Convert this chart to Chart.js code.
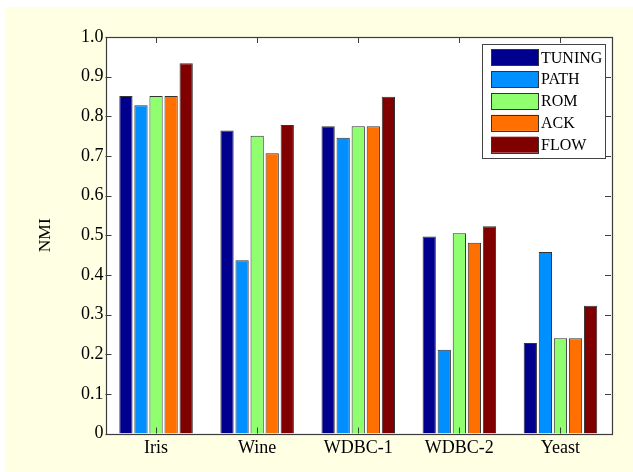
<!DOCTYPE html>
<html>
<head>
<meta charset="utf-8">
<script src="https://cdn.jsdelivr.net/npm/chart.js@4/dist/chart.umd.min.js"></script>
<style>
  html, body { margin: 0; padding: 0; background: #ffffff; }
  #wrap { width: 633px; height: 472px; position: relative; }
</style>
</head>
<body>
<div id="wrap"><canvas id="c" width="633" height="472"></canvas></div>
<script>
const categories = ['Iris', 'Wine', 'WDBC-1', 'WDBC-2', 'Yeast'];
const seriesNames = ['TUNING', 'PATH', 'ROM', 'ACK', 'FLOW'];
const tuning = [0.851, 0.764, 0.775, 0.497, 0.228];
const path   = [0.828, 0.437, 0.746, 0.211, 0.458];
const rom    = [0.851, 0.751, 0.775, 0.505, 0.240];
const ack    = [0.851, 0.707, 0.775, 0.481, 0.240];
const flow   = [0.934, 0.778, 0.849, 0.523, 0.322];
const yTickLabels = ['0', '0.1', '0.2', '0.3', '0.4', '0.5', '0.6', '0.7', '0.8', '0.9', '1.0'];
const yAxisTitle = 'NMI';

const seriesValues = [tuning, path, rom, ack, flow];
const colors = ['#00008f', '#008fff', '#8fff70', '#ff7000', '#800000'];
const FONT = "'Liberation Serif', 'Times New Roman', serif";

const bgPlugin = {
  id: 'bgPlugin',
  beforeDraw(chart) {
    const ctx = chart.ctx;
    ctx.save();
    ctx.fillStyle = '#ffffe3';
    ctx.fillRect(6, 7, chart.width - 6, chart.height - 7);
    const a = chart.chartArea;
    ctx.fillStyle = '#ffffff';
    ctx.fillRect(a.left, a.top, a.right - a.left, a.bottom - a.top);
    ctx.restore();
  },
  afterDatasetsDraw(chart) {
    const ctx = chart.ctx;
    const a = chart.chartArea;
    const ys = chart.scales.y, xs = chart.scales.x;
    ctx.save();
    ctx.strokeStyle = '#3c3c3c';
    ctx.lineWidth = 1;
    const L = 6;
    ctx.beginPath();
    ys.ticks.forEach(t => {
      const y = Math.round(ys.getPixelForValue(t.value)) + 0.5;
      ctx.moveTo(a.left, y); ctx.lineTo(a.left + L, y);
      ctx.moveTo(a.right, y); ctx.lineTo(a.right - L, y);
    });
    categories.forEach((c, i) => {
      const x = Math.round(xs.getPixelForValue(i)) + 0.5;
      ctx.moveTo(x, a.top); ctx.lineTo(x, a.top + L);
      ctx.moveTo(x, a.bottom); ctx.lineTo(x, a.bottom - L);
    });
    ctx.stroke();
    ctx.lineWidth = 1.2;
    ctx.strokeRect(Math.round(a.left) + 0.5, Math.round(a.top) + 0.5, Math.round(a.right - a.left), Math.round(a.bottom - a.top));

    // legend
    const bx = a.right - 6.7, by = a.top + 7.3;
    const bw = 122.6, bh = 114.4;
    ctx.fillStyle = '#ffffff';
    ctx.fillRect(bx - bw, by, bw, bh);
    ctx.lineWidth = 1;
    ctx.strokeStyle = '#444444';
    ctx.strokeRect(Math.round(bx - bw) + 0.5, Math.round(by) + 0.5, Math.round(bw), Math.round(bh));
    ctx.font = '16px ' + FONT;
    ctx.textBaseline = 'middle';
    ctx.textAlign = 'left';
    chart.data.datasets.forEach((ds, i) => {
      const cy = by + 13 + i * 21.85;
      const sx = bx - bw + 9.3;
      ctx.fillStyle = ds.backgroundColor;
      ctx.fillRect(sx, cy - 8, 47, 16);
      ctx.strokeStyle = '#333333';
      ctx.strokeRect(Math.round(sx) + 0.5, Math.round(cy - 8) + 0.5, 47, 16);
      ctx.fillStyle = '#000000';
      ctx.fillText(ds.label, sx + 50, cy + 1);
    });
    ctx.restore();
  }
};

new Chart(document.getElementById('c'), {
  type: 'bar',
  data: {
    labels: categories,
    datasets: seriesNames.map((n, i) => ({
      label: n,
      data: seriesValues[i],
      backgroundColor: colors[i],
      borderColor: '#333333',
      borderWidth: 1,
      categoryPercentage: 0.745,
      barPercentage: 0.88
    }))
  },
  options: {
    responsive: false,
    animation: false,
    devicePixelRatio: 1,
    layout: { padding: { left: 0, top: 37, right: 22, bottom: 0 } },
    plugins: { legend: { display: false }, tooltip: { enabled: false } },
    scales: {
      x: {
        grid: { display: false, drawTicks: false },
        border: { display: false },
        ticks: { color: '#000', font: { family: FONT, size: 18 }, padding: 4, maxRotation: 0 },
        afterFit: s => { s.height = 38.5; }
      },
      y: {
        min: 0, max: 1,
        grid: { display: false, drawTicks: false },
        border: { display: false },
        ticks: {
          stepSize: 0.1,
          color: '#000',
          font: { family: FONT, size: 18 },
          padding: 2,
          callback: (v, i) => yTickLabels[i]
        },
        title: {
          display: true, text: yAxisTitle, color: '#000',
          font: { family: FONT, size: 17.5 },
          padding: { top: 34.5, bottom: 0 }
        },
        afterFit: s => { s.width = 105.5; }
      }
    }
  },
  plugins: [bgPlugin]
});
</script>
</body>
</html>
